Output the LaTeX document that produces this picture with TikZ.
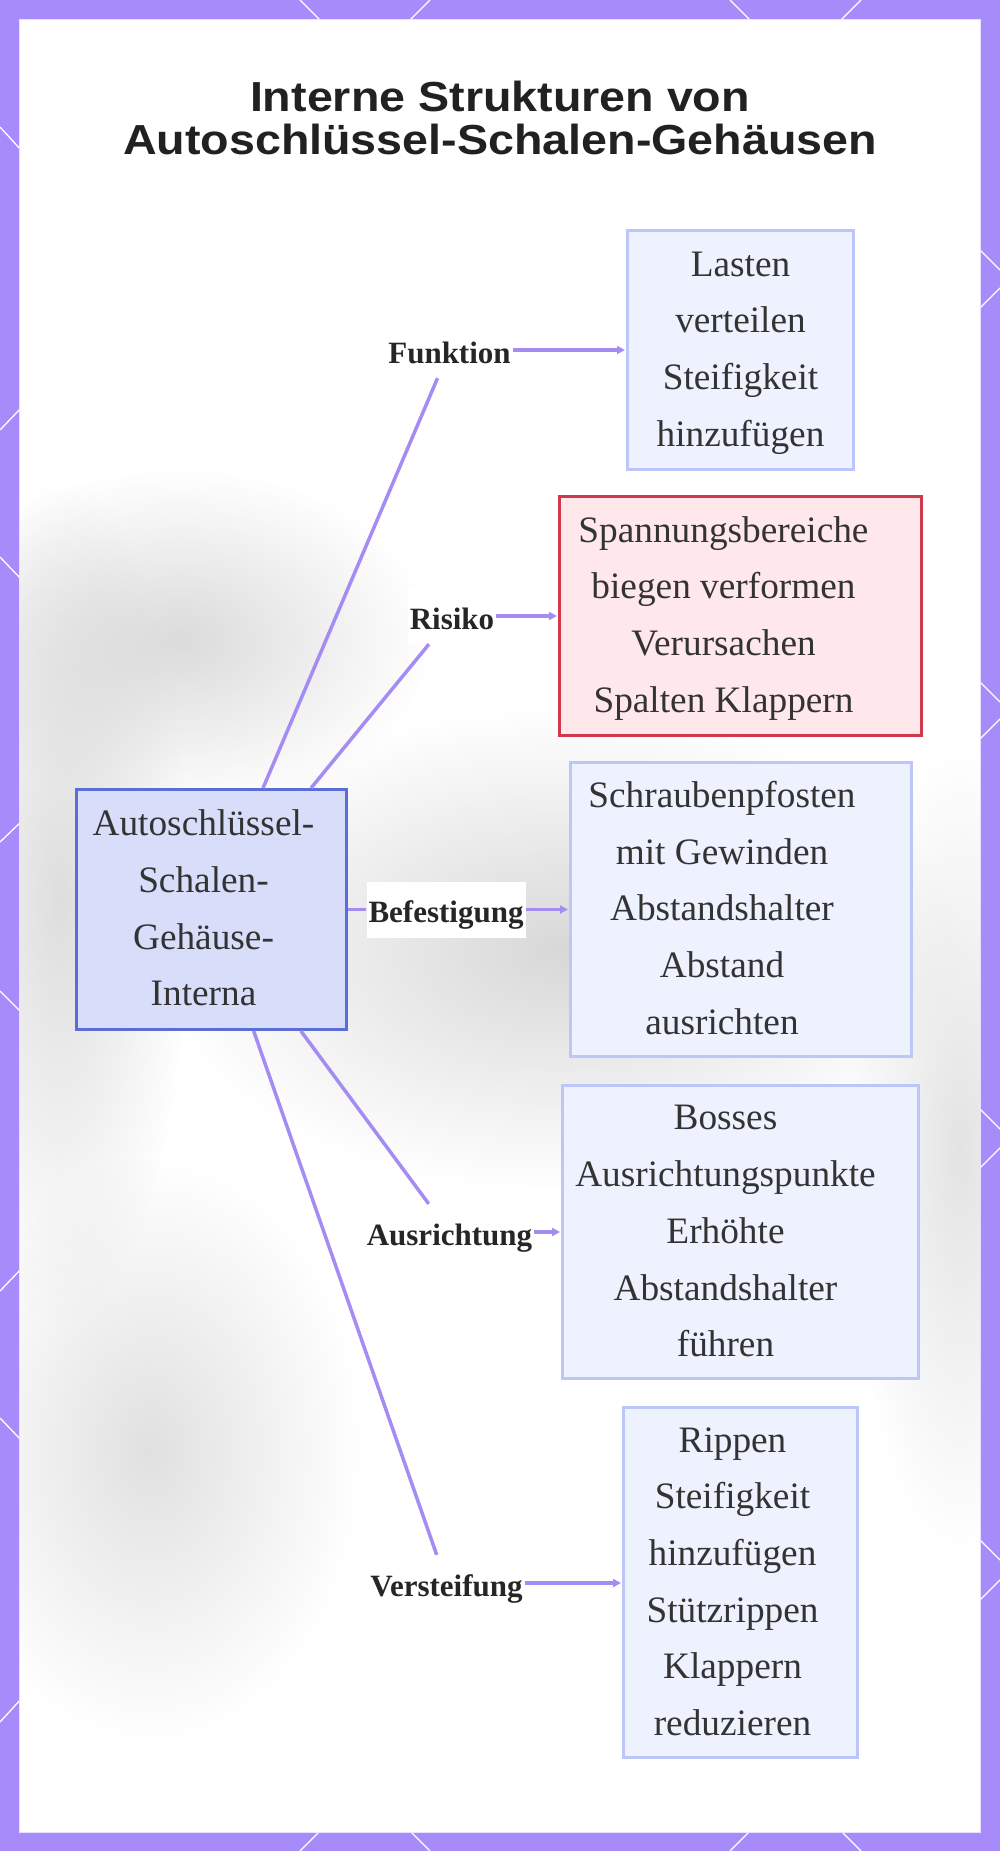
\documentclass[tikz,border=0pt]{standalone}
\usepackage{fontspec}
\setmainfont{Liberation Serif}
\newfontfamily\titlefont[FakeStretch=1.11]{Liberation Sans}
\usetikzlibrary{arrows.meta,fadings}
\definecolor{framec}{HTML}{A78BFA}
\definecolor{edgec}{HTML}{A58CF2}
\definecolor{boxfill}{HTML}{EEF1FE}
\definecolor{boxline}{HTML}{BCC6F8}
\definecolor{mainfill}{HTML}{D8DDFA}
\definecolor{mainline}{HTML}{5B6DD6}
\definecolor{riskfill}{HTML}{FFE8EC}
\definecolor{riskline}{HTML}{D13A4C}
\definecolor{txt}{HTML}{333333}
\definecolor{blobc}{HTML}{C8C8C8}
\newcommand\lines[2]{\begin{tabular}{@{}c@{}}#2\end{tabular}\rule{#1pt}{0pt}}
\tikzfading[name=softblob, inner color=transparent!0, outer color=transparent!100]
\begin{document}
\begin{tikzpicture}[x=1pt,y=-1pt,
  leafbox/.style={draw=boxline, fill=boxfill, line width=3pt, text=txt,
    font=\fontsize{37.3}{56.7}\selectfont, inner sep=0pt},
  mainbox/.style={leafbox, draw=mainline, fill=mainfill},
  riskbox/.style={leafbox, draw=riskline, fill=riskfill},
  lab/.style={fill=white, inner xsep=2pt, inner ysep=0pt, minimum height=56pt, text=black!85,
    text height=28pt, text depth=2pt, font=\bfseries\fontsize{31}{36}\selectfont},
  conn/.style={draw=edgec, line width=3.5pt},
  arr/.style={conn, -{Triangle[length=8pt,width=8pt]}, shorten >=1pt},
  hexl/.style={draw=white, line width=1.3pt},
  blob/.style={fill=blobc, path fading=softblob}]
\useasboundingbox (0,0) rectangle (1000,1851);
\fill[framec] (0,0) rectangle (1000,1851);
% hexagon pattern on frame
\foreach \a/\b/\c/\d in {300/0/322/22, 430/0/408/22, 730/0/752/22, 861/0/839/22,
  300/1851/322/1829, 430/1851/408/1829, 730/1851/752/1829, 861/1851/839/1829,
  0/127/22/151, 0/430/22/407, 0/557/22/580, 0/842/22/821,
  0/991/22/1013, 0/1291/22/1268, 0/1418/22/1441, 0/1722/22/1698,
  1000/270/978/248, 1000/288/978/310, 1000/702/978/680, 1000/719/978/741,
  1000/1129/978/1107, 1000/1148/978/1170, 1000/1560/978/1538, 1000/1580/978/1602}
  \draw[hexl] (\a,\b) -- (\c,\d);
\fill[white] (19,20) rectangle (980,1832);
% blurred background photo (approximation)
\begin{scope}
\clip (19,20) rectangle (980,1832);
\fill[blob, opacity=0.65] (180,640) ellipse [x radius=250, y radius=170];
\fill[blob, opacity=0.6] (60,900) ellipse [x radius=130, y radius=420];
\fill[blob, opacity=0.7] (560,950) ellipse [x radius=400, y radius=240];
\fill[blob, opacity=0.55] (150,1450) ellipse [x radius=210, y radius=290];
\fill[blob, opacity=0.5] (960,1150) ellipse [x radius=110, y radius=400];
\end{scope}
\draw[framec!25, line width=1pt] (19,20) rectangle (980,1832);

% title
\node[font=\titlefont\bfseries\fontsize{42}{47}\selectfont, text=black!87, anchor=base, inner sep=0pt] (t1) at (500,111.7) {Interne Strukturen von};
\node[font=\titlefont\bfseries\fontsize{42}{47}\selectfont, text=black!87, anchor=base, inner sep=0pt] (t2) at (500,155) {Autoschlüssel-Schalen-Gehäusen};

% boxes
\node[mainbox, minimum width=270pt, minimum height=240pt] (main) at (211.5,909.5)
  {\lines{16}{Autoschlüssel-\\Schalen-\\Gehäuse-\\Interna}};
\node[leafbox, minimum width=226pt, minimum height=239pt] (b1) at (740.5,350)
  {\lines{0}{Lasten\\verteilen\\Steifigkeit\\hinzufügen}};
\node[riskbox, minimum width=362pt, minimum height=239pt] (b2) at (740.5,616)
  {\lines{34}{Spannungsbereiche\\biegen verformen\\Verursachen\\Spalten Klappern}};
\node[leafbox, minimum width=341pt, minimum height=294pt] (b3) at (741,909.5)
  {\lines{38}{Schraubenpfosten\\mit Gewinden\\Abstandshalter\\Abstand\\ausrichten}};
\node[leafbox, minimum width=356pt, minimum height=293pt] (b4) at (740.5,1232)
  {\lines{30}{Bosses\\Ausrichtungspunkte\\Erhöhte\\Abstandshalter\\führen}};
\node[leafbox, minimum width=234pt, minimum height=350pt] (b5) at (740.5,1582.5)
  {\lines{16}{Rippen\\Steifigkeit\\hinzufügen\\Stützrippen\\Klappern\\reduzieren}};

% labels
\node[lab] (l1) at (449.5,350) {Funktion};
\node[lab] (l2) at (452,616) {Risiko};
\node[lab] (l3) at (446,909.5) {Befestigung};
\node[lab] (l4) at (449.5,1232) {Ausrichtung};
\node[lab] (l5) at (446.5,1583) {Versteifung};

% connectors
\foreach \l/\b in {l1/b1, l2/b2, l3/b3, l4/b4, l5/b5}{
  \draw[conn] (main) -- (\l);
  \draw[arr] (\l) -- (\l -| \b.west);
}
\end{tikzpicture}
\end{document}
